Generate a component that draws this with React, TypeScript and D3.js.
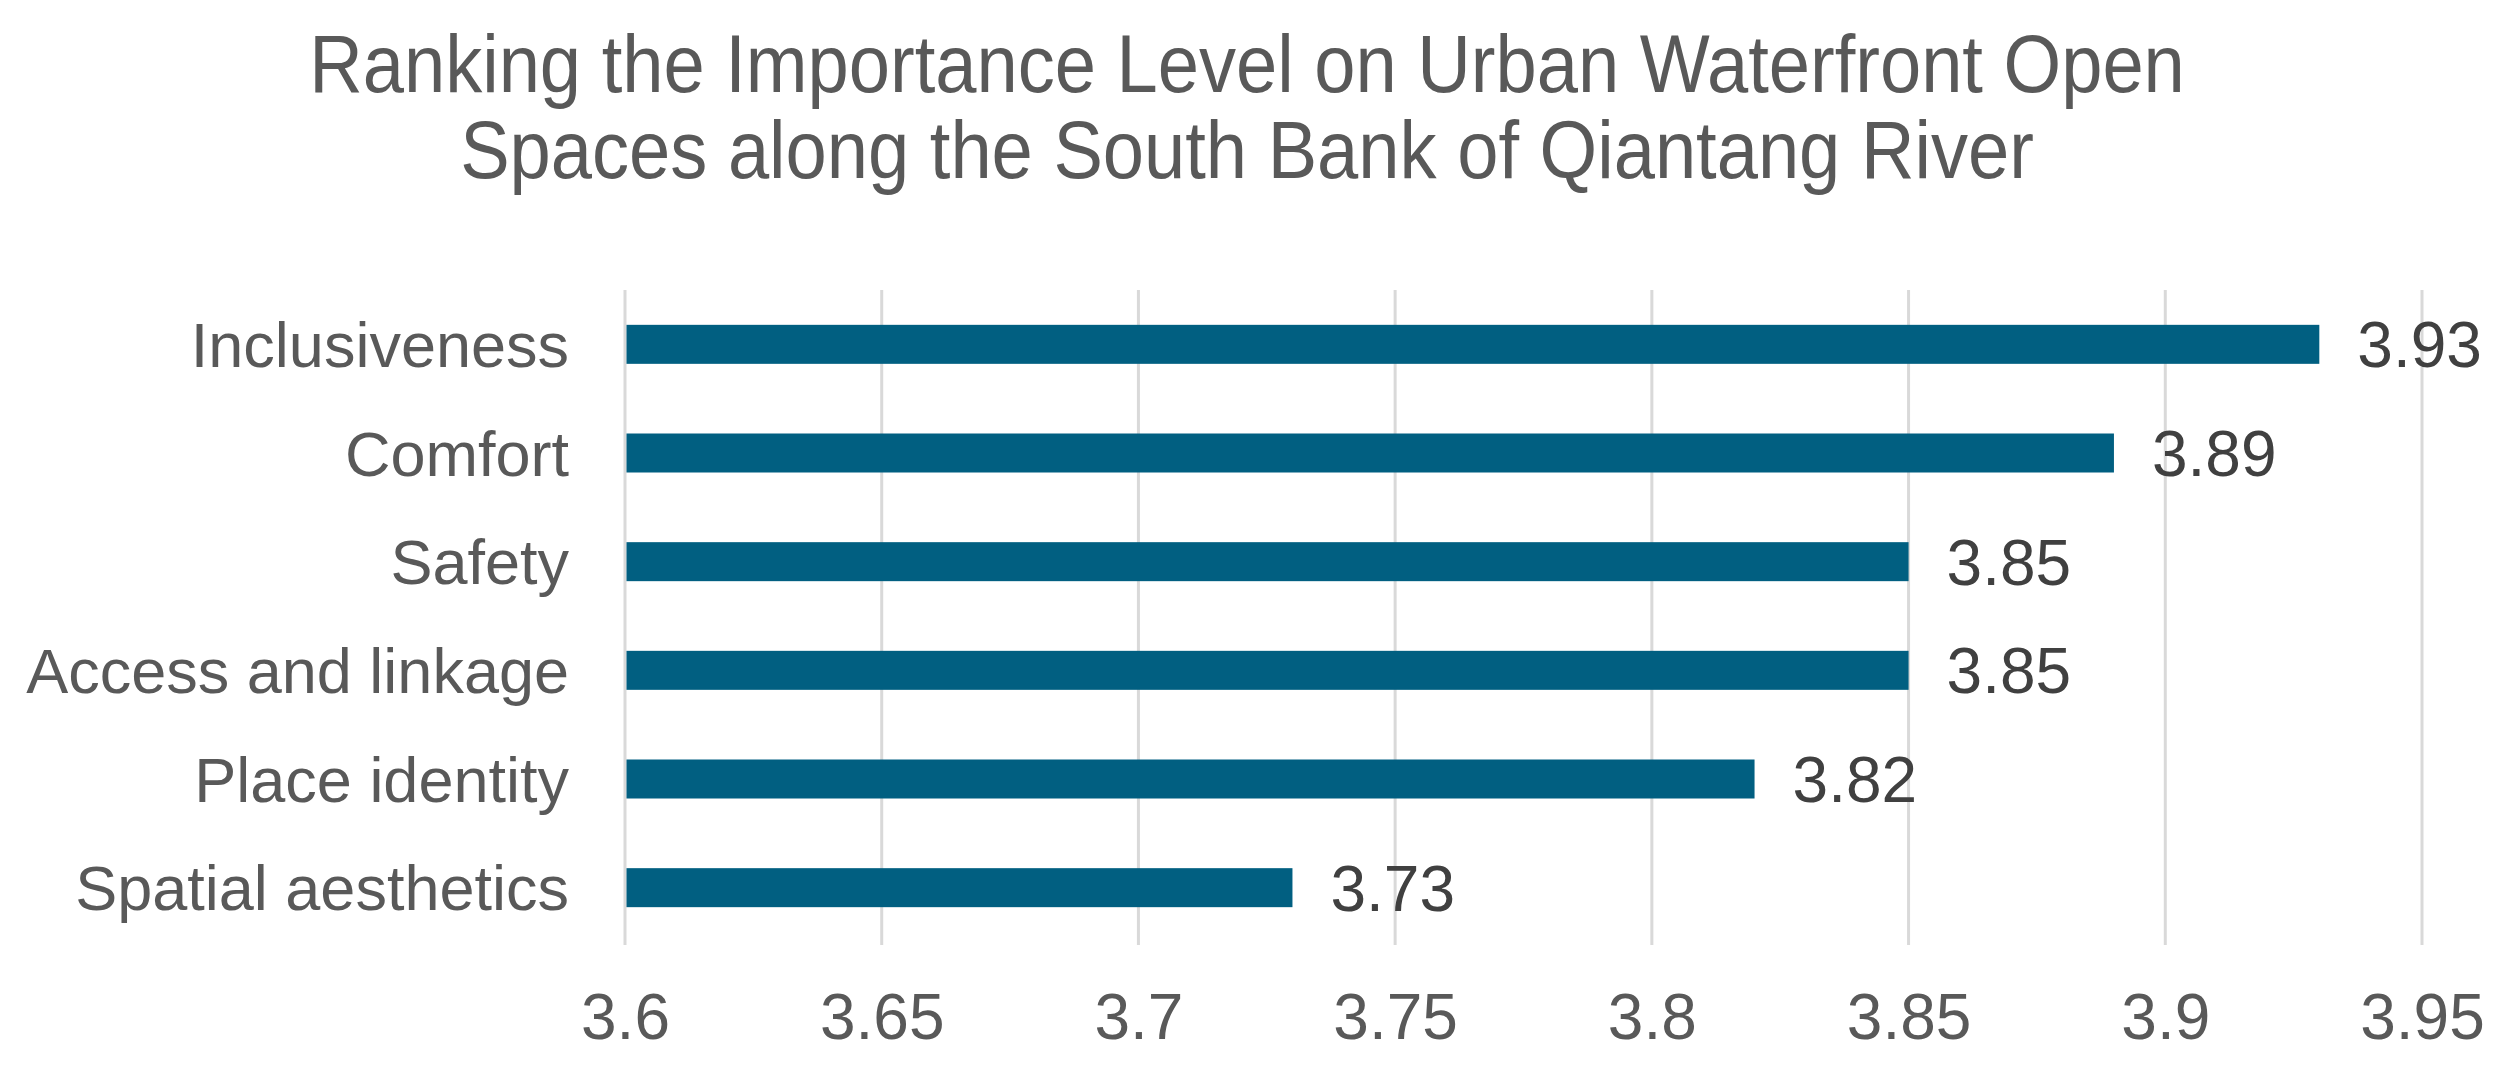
import { useEffect, useRef } from 'react';
import * as d3 from 'd3';

const categories = [
  "Inclusiveness",
  "Comfort",
  "Safety",
  "Access and linkage",
  "Place identity",
  "Spatial aesthetics",
];

const scores = [3.93, 3.89, 3.85, 3.85, 3.82, 3.73];

const xTicks = [3.6, 3.65, 3.7, 3.75, 3.8, 3.85, 3.9, 3.95];

const titleLines = [
  "Ranking the Importance Level on Urban Waterfront Open",
  "Spaces along the South Bank of Qiantang River",
];

interface Row {
  name: string;
  value: number;
}

function RankingChart({ width = 2511, height = 1075 }: { width?: number; height?: number }) {
  const chartRef = useRef<SVGSVGElement | null>(null);

  useEffect(() => {
    if (!chartRef.current) return;

    const data: Row[] = categories.map((name, i) => ({ name, value: scores[i] }));

    const svg = d3.select(chartRef.current);
    svg.selectAll("*").remove();

    const font = "'Liberation Sans', Arial, sans-serif";
    const margin = { top: 290, right: 89, bottom: 130, left: 625 };

    const x = d3.scaleLinear()
      .domain([3.6, 3.95])
      .range([margin.left, width - margin.right]);

    const y = d3.scaleBand()
      .domain(data.map(d => d.name))
      .range([margin.top, 942])
      .paddingInner(0.64)
      .paddingOuter(0.32);

    svg.append("rect")
      .attr("width", width)
      .attr("height", height)
      .attr("fill", "#fff");

    // title, slightly condensed like the original
    const titleX = 1247;
    svg.append("text")
      .attr("transform", `translate(${titleX},92) scale(0.915,1)`)
      .attr("text-anchor", "middle")
      .attr("font-family", font)
      .attr("font-size", "81px")
      .attr("fill", "#595959")
      .selectAll("tspan")
      .data(titleLines)
      .enter()
      .append("tspan")
      .attr("x", 0)
      .attr("y", (_, i) => i * 86)
      .text(d => d);

    // vertical gridlines
    svg.append("g")
      .selectAll("line")
      .data(xTicks)
      .enter()
      .append("line")
      .attr("x1", d => x(d))
      .attr("x2", d => x(d))
      .attr("y1", margin.top)
      .attr("y2", 945)
      .attr("stroke", "#d9d9d9")
      .attr("stroke-width", 3);

    svg.append("g")
      .selectAll("rect")
      .data(data)
      .enter()
      .append("rect")
      .attr("x", x(3.6) + 1.5)
      .attr("y", d => y(d.name)! + y.bandwidth() / 2 - 19.5)
      .attr("width", d => x(d.value) - x(3.6) - 1.5)
      .attr("height", 39)
      .attr("fill", "#015f81");

    // value labels
    svg.append("g")
      .selectAll("text")
      .data(data)
      .enter()
      .append("text")
      .attr("x", d => x(d.value) + 38)
      .attr("y", d => y(d.name)! + y.bandwidth() / 2)
      .attr("dy", "0.36em")
      .attr("font-family", font)
      .attr("font-size", "64px")
      .attr("fill", "#404040")
      .text(d => d.value.toFixed(2));

    // category labels
    svg.append("g")
      .selectAll("text")
      .data(data)
      .enter()
      .append("text")
      .attr("x", 569)
      .attr("y", d => y(d.name)! + y.bandwidth() / 2)
      .attr("dy", "0.36em")
      .attr("text-anchor", "end")
      .attr("font-family", font)
      .attr("font-size", "63px")
      .attr("fill", "#595959")
      .text(d => d.name);

    // x axis labels
    const axis = svg.append("g")
      .attr("transform", `translate(0,1039)`)
      .call(d3.axisBottom(x).tickValues(xTicks).tickSize(0).tickPadding(0).tickFormat(d => String(d)));
    axis.select(".domain").remove();
    axis.selectAll("text")
      .attr("dy", 0)
      .attr("font-family", font)
      .attr("font-size", "64px")
      .attr("fill", "#595959");

  }, [width, height]);

  return (
    <svg
      ref={chartRef}
      width={width}
      height={height}
      style={{ position: 'absolute', left: 0, top: 0 }}
    />
  );
}

export default function App() {
  return <RankingChart />;
}
